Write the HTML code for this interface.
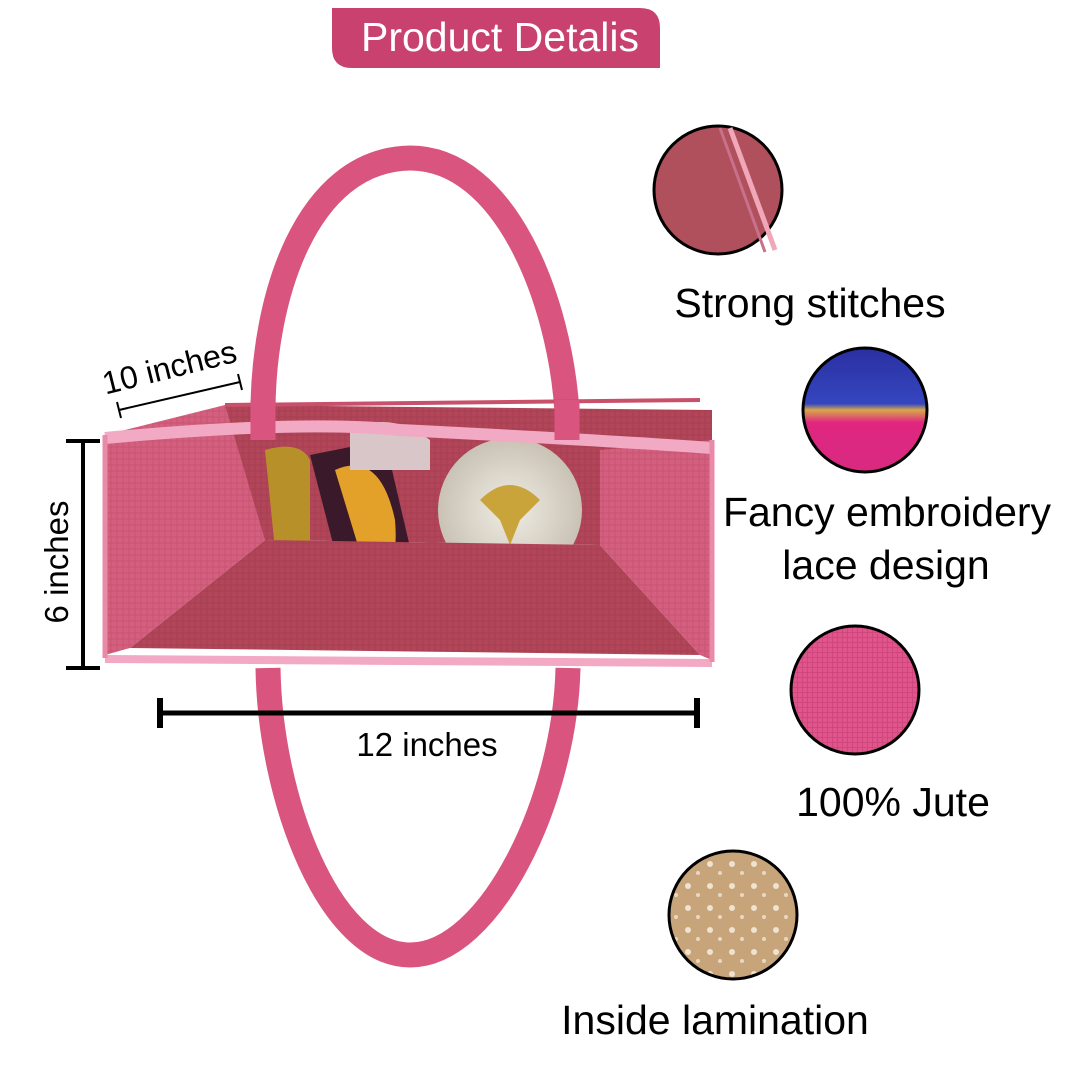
<!DOCTYPE html>
<html><head><meta charset="utf-8"><style>
html,body{margin:0;padding:0;background:#fff;}
svg{display:block;font-family:"Liberation Sans",Arial,sans-serif;}
</style></head><body>
<svg width="1080" height="1080" viewBox="0 0 1080 1080" xmlns="http://www.w3.org/2000/svg">
<defs>
  <pattern id="weave" width="6" height="6" patternUnits="userSpaceOnUse">
    <rect width="6" height="6" fill="#b24658"/>
    <path d="M0 3H6M3 0V6" stroke="#a63f52" stroke-width="1"/>
  </pattern>
  <pattern id="wall" width="6" height="6" patternUnits="userSpaceOnUse">
    <rect width="6" height="6" fill="#d45f7e"/>
    <path d="M0 3H6M3 0V6" stroke="#c85475" stroke-width="1"/>
  </pattern>
  <pattern id="jute" width="5" height="5" patternUnits="userSpaceOnUse">
    <rect width="5" height="5" fill="#e0568c"/>
    <path d="M0 2.5H5M2.5 0V5" stroke="#cf477c" stroke-width="1"/>
  </pattern>
  <pattern id="drops" width="22" height="22" patternUnits="userSpaceOnUse">
    <rect width="22" height="22" fill="#c7a47a"/>
    <circle cx="6" cy="6" r="3" fill="#efe2cf"/>
    <circle cx="16" cy="15" r="2" fill="#e8d8c2"/>
  </pattern>
  <linearGradient id="emb" x1="0" y1="0" x2="0" y2="1">
    <stop offset="0" stop-color="#2a2fa0"/><stop offset="0.45" stop-color="#3546c0"/>
    <stop offset="0.5" stop-color="#d8a84a"/><stop offset="0.6" stop-color="#e0267f"/><stop offset="1" stop-color="#d82a80"/>
  </linearGradient>
  <radialGradient id="tin" cx="0.5" cy="0.5" r="0.5">
    <stop offset="0" stop-color="#f1ede4"/><stop offset="1" stop-color="#c9c2b5"/>
  </radialGradient>
</defs>

<!-- title -->
<path d="M332 8H640Q660 8 660 28V68H352Q332 68 332 48Z" fill="#c9426f"/>
<text x="500" y="51" font-size="41" fill="#fff" text-anchor="middle">Product Detalis</text>

<!-- back handle -->
<path d="M263 412 C263 300 305 160 410 158 C505 158 560 300 567 412" fill="none" stroke="#d9557f" stroke-width="25"/>

<!-- bag interior back -->
<polygon points="225,405 712,410 712,450 600,455 600,545 265,540 230,455" fill="url(#weave)"/>
<!-- items -->
<path d="M265 450 Q300 440 310 460 L310 610 Q290 615 280 600 Z" fill="#b8902a"/>
<path d="M310 455 L385 440 L420 590 L345 590 Z" fill="#3a1a2a"/>
<path d="M335 470 Q380 450 395 520 Q400 580 370 585 Z" fill="#e3a12a"/>
<path d="M350 430 Q390 410 430 440 L430 470 L350 470 Z" fill="#d9c6c9"/>
<circle cx="510" cy="510" r="72" fill="url(#tin)"/>
<path d="M480 500 Q510 470 540 500 L520 520 L510 545 L500 520 Z" fill="#c9a43a"/>
<!-- bottom -->
<polygon points="130,648 265,540 600,545 700,655" fill="url(#weave)"/>
<!-- side walls -->
<polygon points="105,435 225,405 265,540 130,648 105,655" fill="url(#wall)"/>
<polygon points="712,440 600,450 600,545 700,655 712,660" fill="url(#wall)"/>
<!-- rims -->
<path d="M225 405 L700 400" fill="none" stroke="#c9506a" stroke-width="4"/>
<path d="M105 438 Q300 420 400 430 Q600 440 712 448" fill="none" stroke="#f2a9c4" stroke-width="12"/>
<path d="M105 659 L712 663" fill="none" stroke="#f3a9c3" stroke-width="8"/>
<path d="M105 435 L105 658 M712 440 L712 662" stroke="#e98aa9" stroke-width="5"/>
<!-- handle bits over rim -->
<path d="M263 400 L263 440 M567 400 L567 440" stroke="#d9557f" stroke-width="25"/>

<!-- front handle -->
<path d="M268 668 C270 800 330 955 410 955 C490 955 565 800 568 668" fill="none" stroke="#d9557f" stroke-width="25"/>

<!-- dimensions -->
<g stroke="#000" stroke-width="4">
  <line x1="83" y1="441" x2="83" y2="668"/>
  <line x1="66" y1="441" x2="100" y2="441"/>
  <line x1="66" y1="668" x2="100" y2="668"/>
  <line x1="160" y1="713" x2="697" y2="713" stroke-width="5"/>
  <line x1="160" y1="698" x2="160" y2="728" stroke-width="6"/>
  <line x1="697" y1="698" x2="697" y2="728" stroke-width="6"/>
</g>
<g stroke="#000" stroke-width="2">
  <line x1="119" y1="410" x2="240" y2="382"/>
  <line x1="117" y1="402" x2="121" y2="418"/>
  <line x1="238" y1="374" x2="242" y2="390"/>
</g>
<text x="427" y="756" font-size="33" text-anchor="middle">12 inches</text>
<text transform="translate(68,562) rotate(-90)" font-size="33" text-anchor="middle">6 inches</text>
<text transform="translate(172,378) rotate(-14)" font-size="32" text-anchor="middle">10 inches</text>

<!-- feature circles -->
<circle cx="718" cy="190" r="64" fill="#b0505c" stroke="#000" stroke-width="3"/>
<path d="M730 128 L775 250" stroke="#f0a7b8" stroke-width="5"/>
<path d="M720 128 L765 252" stroke="#c9708a" stroke-width="3"/>
<circle cx="865" cy="410" r="62" fill="url(#emb)" stroke="#000" stroke-width="3"/>
<circle cx="855" cy="690" r="64" fill="url(#jute)" stroke="#000" stroke-width="3"/>
<circle cx="733" cy="915" r="64" fill="url(#drops)" stroke="#000" stroke-width="3"/>

<g font-size="41" text-anchor="middle" fill="#000">
  <text x="810" y="317">Strong stitches</text>
  <text x="887" y="526">Fancy embroidery</text>
  <text x="886" y="579">lace design</text>
  <text x="893" y="816">100% Jute</text>
  <text x="715" y="1034">Inside lamination</text>
</g>
</svg>
</body></html>
